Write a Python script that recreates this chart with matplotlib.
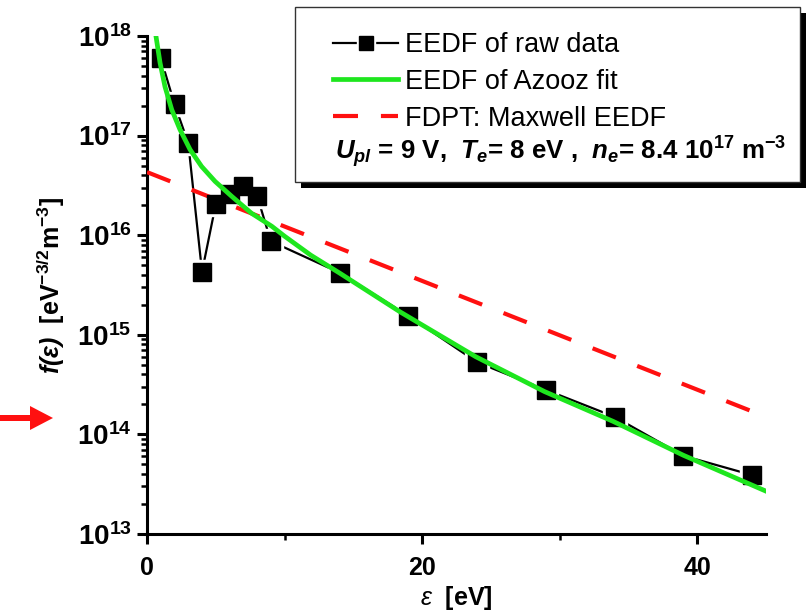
import numpy as np
import matplotlib
matplotlib.use("Agg")
import matplotlib.pyplot as plt
from matplotlib.patches import Rectangle, FancyArrow
from matplotlib.legend_handler import HandlerTuple
from matplotlib.ticker import LogLocator, FixedLocator, FuncFormatter, NullFormatter

plt.rcParams['font.family'] = ['Liberation Sans', 'DejaVu Sans']
plt.rcParams['mathtext.fontset'] = 'custom'
plt.rcParams['mathtext.rm'] = 'Liberation Sans'
plt.rcParams['mathtext.it'] = 'Liberation Sans:italic'
plt.rcParams['mathtext.bf'] = 'Liberation Sans:bold'
plt.rcParams['mathtext.bfit'] = 'Liberation Sans:italic:bold'

# measured EEDF (probe raw data)
energy_raw = [1, 2, 3, 4, 5, 6, 7, 8, 9, 14, 19, 24, 29, 34, 39, 44]
eedf_raw = [6.0e17, 2.07e17, 8.4e16, 4.3e15, 2.05e16, 2.6e16, 3.1e16, 2.5e16,
            8.7e15, 4.2e15, 1.55e15, 5.3e14, 2.8e14, 1.5e14, 6.1e13, 3.9e13]

# Azooz fit, sampled along the curve (log10 values)
energy_fit = [0.6, 0.65, 0.95, 1.31, 1.8, 2.4, 3.13, 3.97, 4.95, 6.16, 7.6,
              9.07, 10.0, 11.9, 14.0, 18.4, 23.9, 28.9, 33.9, 39.0, 45.0]
log_eedf_fit = [18.04, 18.0, 17.73, 17.49, 17.26, 17.06, 16.86, 16.69, 16.54,
                16.39, 16.22, 16.09, 15.99, 15.80, 15.62, 15.23, 14.78, 14.43,
                14.13, 13.79, 13.43]

# Maxwell EEDF from FDPT (straight line in semi-log)
energy_max = [0, 45]
eedf_max = [4.3e16, 1.5e14]

fig = plt.figure(figsize=(8.08, 6.13), dpi=100)
ax = fig.add_axes([147 / 808, 79 / 613, 619 / 808, 498 / 613])

raw_line, = ax.plot(energy_raw, eedf_raw, color='k', lw=1.6, zorder=2)
# white halo leaves a small gap between the line and each symbol
halo, = ax.plot(energy_raw, eedf_raw, ls='none', marker='s', ms=17,
                mfc='white', mec='white', zorder=2.5)
max_line, = ax.plot(energy_max, eedf_max, color='#ff1010', lw=3, ls=(0, (6, 5.5)),
                    zorder=2.7)
squares, = ax.plot(energy_raw, eedf_raw, ls='none', marker='s', ms=12.5,
                   mfc='k', mec='k', zorder=3)
fit_line, = ax.plot(energy_fit, 10 ** np.array(log_eedf_fit), color='#1ee61e',
                    lw=3.4, zorder=4)

ax.set_yscale('log')
ax.set_xlim(0, 45)
ax.set_ylim(1e13, 1e18)

for side in ('top', 'right'):
    ax.spines[side].set_visible(False)
for side in ('left', 'bottom'):
    ax.spines[side].set_linewidth(2.2)

ax.xaxis.set_major_locator(FixedLocator([0, 20, 40]))
ax.xaxis.set_minor_locator(FixedLocator([10, 30]))
ax.yaxis.set_major_locator(LogLocator(base=10, numticks=10))
ax.yaxis.set_minor_locator(LogLocator(base=10, subs=np.arange(2, 10), numticks=10))
ax.yaxis.set_major_formatter(FuncFormatter(lambda v, p: r'$\mathbf{10^{%d}}$' % round(np.log10(v))))
ax.yaxis.set_minor_formatter(NullFormatter())

ax.tick_params(axis='both', which='major', direction='out', length=7, width=2.2,
               labelsize=18, pad=4)
ax.tick_params(axis='both', which='minor', direction='out', length=4, width=1.8)
ax.tick_params(axis='y', which='major', labelsize=20)
ax.tick_params(axis='x', which='major', pad=9)
for lbl in ax.get_xticklabels():
    lbl.set_fontweight('bold')

ax.set_xlabel(r'$\varepsilon$  [eV]', fontsize=18, fontweight='bold', labelpad=3)
ax.set_ylabel(r'$\mathbfit{f(\varepsilon)}$  [eV$^{\mathbf{-3/2}}$m$^{\mathbf{-3}}$]',
              fontsize=18, fontweight='bold', labelpad=7)

# legend box with a hard black drop shadow
bx, by, bw, bh = 295 / 808, 1 - 182 / 613, 505 / 808, 175 / 613
fig.add_artist(Rectangle((bx + 6 / 808, by - 6 / 613), bw, bh, transform=fig.transFigure,
                         fc='k', ec='k', lw=0, zorder=1))
fig.add_artist(Rectangle((bx, by), bw, bh, transform=fig.transFigure,
                         fc='white', ec='#333333', lw=1, zorder=2))

fig.legend([(raw_line, halo, squares), fit_line, max_line],
           ['EEDF of raw data', 'EEDF of Azooz fit', 'FDPT: Maxwell EEDF'],
           handler_map={tuple: HandlerTuple(ndivide=1)},
           loc='upper left', bbox_to_anchor=(333 / 808, 1 - 32 / 613),
           frameon=False, fontsize=19.5, handlelength=2.4, handletextpad=0.25,
           labelspacing=0.4, borderpad=0, borderaxespad=0, markerscale=0.8)

fig.text(335 / 808, 1 - 152 / 613,
         r'$\mathbfit{U}_{\mathbfit{pl}}$ = 9 V,  $\mathbfit{T}_{\mathbfit{e}}$= 8 eV ,  '
         r'$\mathbfit{n}_{\mathbfit{e}}$= 8.4 10$^{\mathbf{17}}$ m$^{\mathbf{-3}}$',
         fontsize=18.6, fontweight='bold', va='center', ha='left', zorder=3)

# red marker arrow on the left edge
fig.add_artist(FancyArrow(0, 1 - 418 / 613, 53 / 808, 0, width=6 / 613,
                          head_width=24 / 613, head_length=23 / 808,
                          length_includes_head=True, transform=fig.transFigure,
                          color='#ff1010', lw=0))

fig.savefig('out.png', dpi=100)
